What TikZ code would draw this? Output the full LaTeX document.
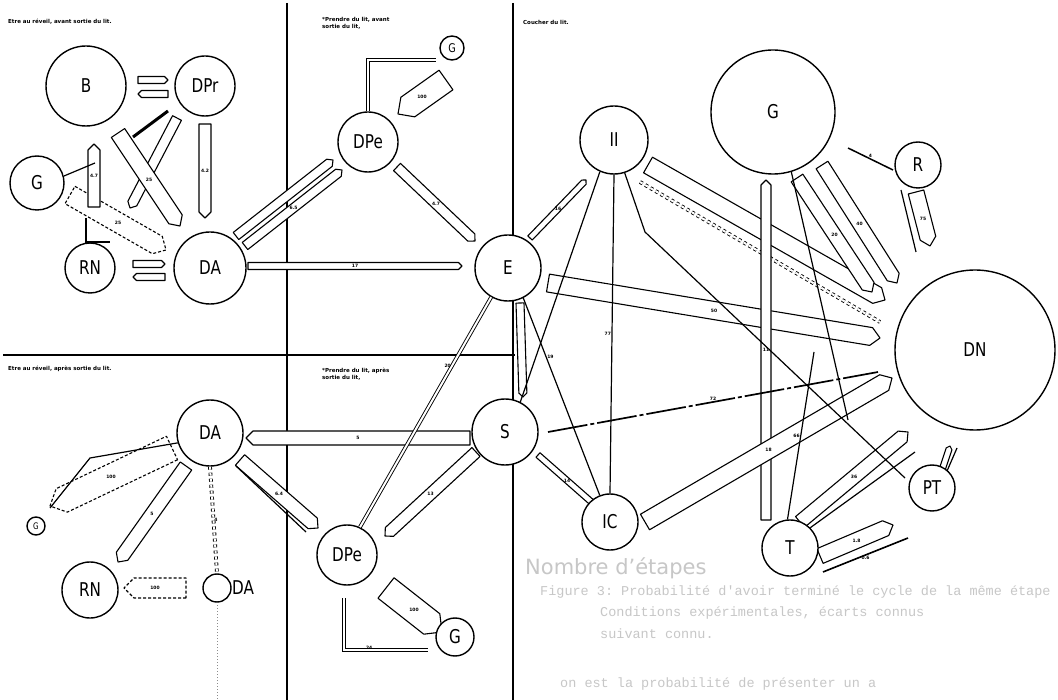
\documentclass[tikz,border=0pt]{standalone}
\usepackage{fontspec}
\usepackage{graphicx}
\setmainfont{DejaVu Sans}
\setsansfont{DejaVu Sans}
\setmonofont{Liberation Mono}
\usetikzlibrary{calc,arrows.meta}
\newcommand\nl[1]{\scalebox{0.8}[1]{#1}}
\tikzset{
 circ/.style={circle, draw, line width=1.4pt, fill=white, minimum size=#1, inner sep=0pt, font=\fontsize{19}{20}\selectfont},
 pen/.style={draw, line width=1.1pt, fill=white, line join=round},
 lab/.style={font=\fontsize{4.5}{5}\selectfont\bfseries, inner sep=0.5pt},
 hdr/.style={font=\fontsize{5.5}{7}\selectfont\bfseries, anchor=west, inner sep=0pt, align=left},
 ln/.style={line width=1.2pt},
 dbl/.style={double, double distance=2pt, line width=0.9pt},
 faint/.style={text=black!22, font=\ttfamily\fontsize{13.5}{14}\selectfont, anchor=west, inner sep=0pt}
}
\newcommand\pencil[5][]{%
  \draw[pen,#1] ($(#2)!#4!90:(#3)$) -- ($($(#3)!#4!(#2)$)!#4!90:(#3)$) -- (#3) -- ($($(#3)!#4!(#2)$)!#4!-90:(#3)$) -- ($(#2)!#4!-90:(#3)$) -- cycle;
  \node[lab] at ($(#2)!0.5!(#3)$) {#5};}
\begin{document}
\begin{tikzpicture}[x=1pt,y=-1pt]
\useasboundingbox (0,0) rectangle (1058,700);
\fill[white] (0,0) rectangle (1058,700);
% faint show-through text
\node[faint, font=\sffamily\fontsize{21}{22}\selectfont] (ft0) at (525,568) {Nombre d'étapes};
\node[faint] (ft1) at (540,592) {Figure 3: Probabilité d'avoir terminé le cycle de la même étape};
\node[faint] (ft2) at (600,613) {Conditions expérimentales, écarts connus};
\node[faint] (ft3) at (600,634) {suivant connu.};
\node[faint] (ft4) at (560,684) {on est la probabilité de présenter un a};
% dividers
\draw[line width=1.2pt] (287,3) -- (287,700);
\draw[line width=1.2pt] (513,3) -- (513,700);
\draw[line width=1.6pt] (3,355) -- (515,355);
% headers
\node[hdr] (h1) at (8,22) {Etre au réveil, avant sortie du lit.};
\node[hdr] (h2) at (322,23) {*Prendre du lit, avant\\sortie du lit,};
\node[hdr] (h3) at (523,22) {Coucher du lit.};
\node[hdr] (h4) at (8,369) {Etre au réveil, après sortie du lit.};
\node[hdr] (h5) at (322,374) {*Prendre du lit, après\\sortie du lit,};
% ---- top-left connectors
\pencil{138,80}{168,80}{3.5pt}{}
\pencil{168,94}{138,94}{3.5pt}{}
\pencil{133,264}{165,264}{3.5pt}{}
\pencil{165,277}{133,277}{3.5pt}{}
\pencil{205,124}{205,218}{6pt}{4.2}
\pencil[densely dashed]{70,195}{166,250}{10pt}{25}
\pencil{94,207}{94,144}{6pt}{4.7}
\pencil{177,118}{130,208}{5pt}{}
\pencil{118,133}{180,226}{8pt}{25}
\draw[line width=3pt] (168,111) -- (133,137);
\draw[ln] (64,176) -- (95,163);
\draw[ln] (86,218) -- (86,242) -- (110,242);
\pencil{236,236}{333,160}{4.5pt}{}
\pencil{245,246}{342,170}{4.5pt}{6.5}
\pencil{248,266}{462,266}{3.5pt}{17}
\pencil{397,167}{475,241}{5pt}{4.7}
\pencil{446,80}{398,114}{12pt}{100}
% ---- right panel connectors
\pencil{530,238}{586,180}{3pt}{16}
\pencil{520,303}{523,397}{4pt}{}
\pencil{648,165}{885,300}{9pt}{19}
\draw[dbl,dashed] (640,182) -- (880,322);
\pencil{548,283}{880,338}{9pt}{50}
\pencil{766,520}{766,180}{5pt}{11}
\pencil{797,178}{872,292}{7pt}{20}
\pencil{822,165}{897,283}{7pt}{40}
\draw[line width=1.5pt] (848,148) -- (893,170) node[lab,midway,above] {4};
\pencil{916,192}{930,246}{8pt}{75}
\draw[ln] (901,190) -- (916,252);
\draw[line width=1.7pt, dash pattern=on 40pt off 3pt on 4pt off 3pt] (548,432) -- (878,372) node[lab,midway,above] {72};
\pencil{645,522}{892,378}{9pt}{18}
\pencil{800,522}{908,432}{7pt}{36}
\pencil{820,556}{893,525}{8pt}{1.8}
\draw[line width=1.6pt] (823,572) -- (908,538) node[lab,midway,below] {0.6};
\pencil{940,476}{950,446}{3pt}{}
\draw[ln] (944,478) -- (957,448);
\pencil{538,455}{596,506}{3pt}{14}
% ---- bottom-left
\pencil{470,438}{246,438}{7pt}{5}
\pencil[densely dashed]{172,448}{50,506}{13pt}{100}
\pencil{186,466}{118,562}{7pt}{5}
\pencil[densely dashed]{186,588}{124,588}{10pt}{100}
\pencil{240,460}{318,528}{7pt}{6.4}
\draw[ln] (236,466) -- (306,532);
\draw[black!45, dotted, line width=1pt] (217,605) -- (217,700);
% ---- bottom-middle
\pencil{476,452}{385,536}{6pt}{13}
\draw[dbl] (344,598) -- (344,650) -- (428,650) node[lab,pos=0.3,above] {24};
\pencil{386,588}{442,632}{13pt}{100}
% ---- nodes
\node[circ=80] (B) at (86,86) {\nl{B}};
\node[circ=60] (OPr) at (205,86) {\nl{DPr}};
\node[circ=54] (G1) at (37,183) {\nl{G}};
\node[circ=50] (RN1) at (90,268) {\nl{RN}};
\node[circ=72] (DA1) at (210,268) {\nl{DA}};
\node[circ=60] (DPe1) at (368,142) {\nl{DPe}};
\node[circ=24, font=\fontsize{12}{12}\selectfont] (G2) at (452,48) {\nl{G}};
\node[circ=66] (E) at (508,268) {\nl{E}};
\node[circ=68] (II) at (614,140) {\nl{II}};
\node[circ=124] (G3) at (773,112) {\nl{G}};
\node[circ=46] (R) at (918,165) {\nl{R}};
\node[circ=160] (DN) at (975,350) {\nl{DN}};
\node[circ=66] (S) at (505,432) {\nl{S}};
\node[circ=56] (IC) at (610,522) {\nl{IC}};
\node[circ=56] (T) at (790,548) {\nl{T}};
\node[circ=46] (PT) at (932,488) {\nl{PT}};
\node[circ=66] (DA2) at (210,433) {\nl{DA}};
\node[circ=56] (RN2) at (90,590) {\nl{RN}};
\node[circ=28] (DA3) at (217,588) {};
\node[font=\fontsize{19}{20}\selectfont, anchor=west, inner sep=0pt] (DA3l) at (232,588) {\nl{DA}};
\node[circ=18, font=\fontsize{9}{9}\selectfont] (G4) at (36,526) {\nl{G}};
\node[circ=60] (DPe2) at (347,555) {\nl{DPe}};
\node[circ=38] (G5) at (455,637) {\nl{G}};
% ---- node-to-node lines
\draw[dbl] (DPe1.north) -- (368,60) -- (436,60);
\draw[ln] (II.246) -- (S.63);
\draw[ln] (E.-63) -- (IC.111) node[lab,pos=0.3,right] {19};
\draw[ln] (II.south) -- (IC.north) node[lab,midway,left] {77};
\draw[ln] (II.-72) -- (645,232) -- (905,478);
\draw[ln] (G3.-73) -- (848,420);
\draw[ln] (T.95) -- (814,352) node[lab,pos=0.5,left] {66};
\draw[ln] (T.45) -- (915,452);
\draw[ln] (DA2.197) -- (90,458) -- (50,508);
\draw[dbl,dashed] (DA2.south) -- (DA3.north) node[lab,midway,right] {4};
\draw[dbl] (E.240) -- (DPe2.65) node[lab,pos=0.3,left] {20};
\end{tikzpicture}
\end{document}
